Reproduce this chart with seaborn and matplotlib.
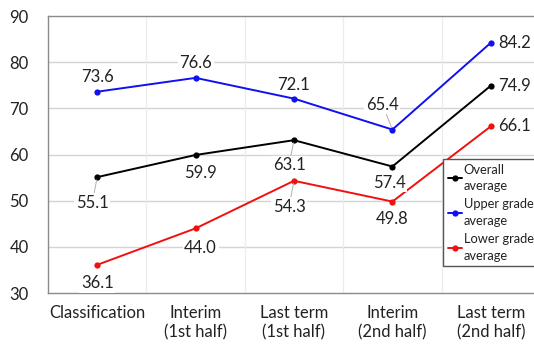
import matplotlib
matplotlib.use("Agg")
import matplotlib.pyplot as plt
import seaborn as sns
import pandas as pd

categories = ["Classification", "Interim\n(1st half)", "Last term\n(1st half)",
              "Interim\n(2nd half)", "Last term\n(2nd half)"]
overall = [55.1, 59.9, 63.1, 57.4, 74.9]
upper = [73.6, 76.6, 72.1, 65.4, 84.2]
lower = [36.1, 44.0, 54.3, 49.8, 66.1]
series_names = ["Overall\naverage", "Upper grade\naverage", "Lower grade\naverage"]
y_ticks = [30, 40, 50, 60, 70, 80, 90]

sns.set_theme(style="white")
plt.rcParams["font.family"] = ["Lato", "DejaVu Sans"]

rows = []
for name, vals in zip(series_names, [overall, upper, lower]):
    for i, v in enumerate(vals):
        rows.append({"pos": i, "value": v, "series": name})
df = pd.DataFrame(rows)

fig = plt.figure(figsize=(5.34, 3.49), dpi=100)
ax = fig.add_axes([48 / 534, 56 / 349, 492 / 534, 277 / 349])

palette = {series_names[0]: "#000000", series_names[1]: "#1010f0", series_names[2]: "#f01010"}
sns.lineplot(data=df, x="pos", y="value", hue="series", palette=palette,
             marker="o", markersize=4.5, markeredgewidth=0, linewidth=1.4, ax=ax)

ax.set_xlim(-0.5, 4.5)
ax.set_ylim(30, 90)
ax.set_yticks(y_ticks)
ax.set_xticks(range(len(categories)))
ax.set_xticklabels(categories, fontsize=12, color="#222222")
ax.tick_params(axis="y", labelsize=12, labelcolor="#222222", length=0, pad=14)
ax.tick_params(axis="x", length=0, pad=9)
ax.set_xlabel("")
ax.set_ylabel("")

# horizontal grid at each tick, faint vertical separators between categories
for t in y_ticks[1:-1]:
    ax.axhline(t, color="#d4d4d4", lw=1.0, zorder=0)
for b in [0.5, 1.5, 2.5, 3.5]:
    ax.axvline(b, color="#ececec", lw=0.9, zorder=0)

for side in ["left", "bottom", "top"]:
    ax.spines[side].set_color("#8a8a8a")
    ax.spines[side].set_linewidth(1.0)
ax.spines["right"].set_visible(False)

# value labels: (dx, dy) in pixels, leader line flag
offsets = {
    "upper": [(0, 15, False), (0, 15, False), (0, 14, False), (-10, 25, True), (24, 0, False)],
    "overall": [(-5, -26, True), (5, -18, False), (-5, -25, True), (-3, -16, False), (24, 0, False)],
    "lower": [(0, -18, False), (5, -20, False), (-5, -26, True), (0, -17, False), (24, 0, False)],
}
for key, vals in [("upper", upper), ("overall", overall), ("lower", lower)]:
    for i, v in enumerate(vals):
        dx, dy, lead = offsets[key][i]
        kw = {}
        if lead:
            kw["arrowprops"] = dict(arrowstyle="-", color="#b0b0b0", lw=0.7,
                                    shrinkA=0, shrinkB=2)
        ax.annotate(f"{v:.1f}", xy=(i, v), xytext=(dx, dy), textcoords="offset pixels",
                    ha="center", va="center", fontsize=12, color="#222222",
                    bbox=dict(boxstyle="square,pad=0.1", fc="white", ec="none"),
                    zorder=5, **kw)

handles, labels = ax.get_legend_handles_labels()
leg = ax.legend(handles, labels, loc="upper left",
                bbox_to_anchor=(443 / 534, 1 - 159 / 349), bbox_transform=fig.transFigure,
                fontsize=9.3, frameon=True, fancybox=False, edgecolor="#555555",
                framealpha=1, handlelength=1.1, handletextpad=0.15, labelspacing=0.5,
                borderpad=0.35, borderaxespad=0)
for txt in leg.get_texts():
    txt.set_linespacing(1.45)
    txt.set_color("#222222")

fig.savefig("out.png", dpi=100)
